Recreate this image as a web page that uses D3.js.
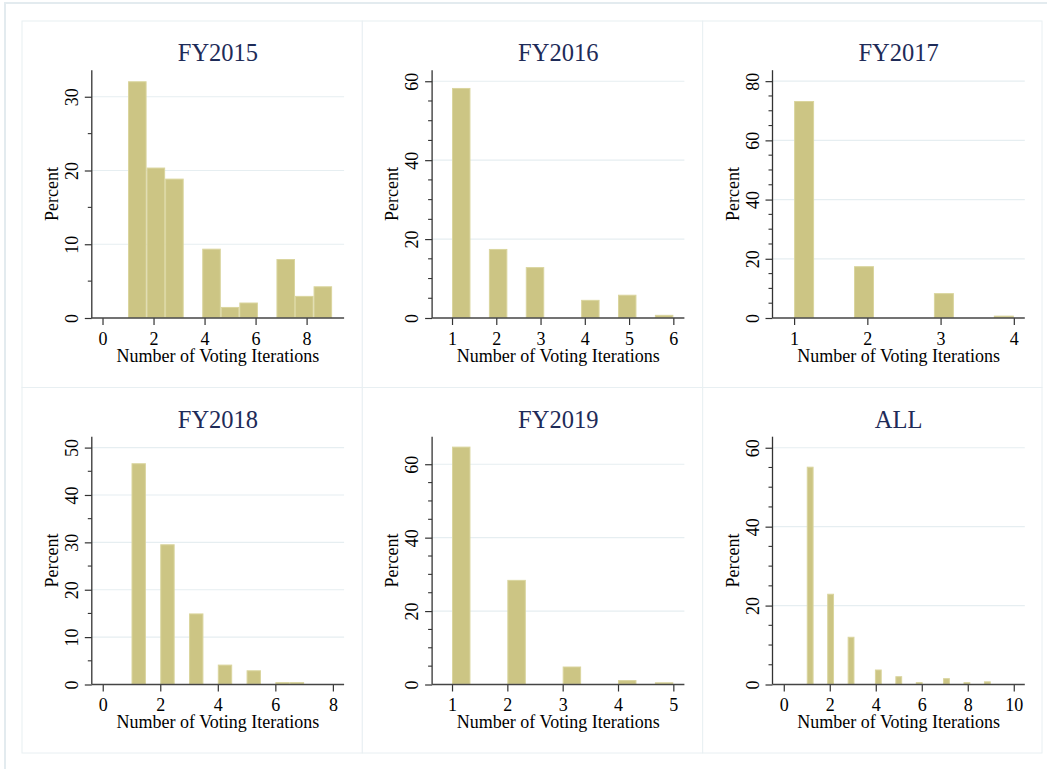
<!DOCTYPE html>
<html>
<head>
<meta charset="utf-8">
<script src="https://cdn.jsdelivr.net/npm/d3@7"></script>
<style>
  html, body { margin: 0; padding: 0; background: #ffffff; }
  svg { display: block; }
  text { font-family: "Liberation Serif", "Times New Roman", serif; }
</style>
</head>
<body>
<svg id="chart" width="1047" height="769"></svg>
<script>
// Panel titles
const titles = ["FY2015", "FY2016", "FY2017", "FY2018", "FY2019", "ALL"];

// Histogram bins: each panel's bins split [binLow, binHigh] evenly
const binLow  = [1, 1, 1, 1, 1, 1];
const binHigh = [9, 6, 4, 7, 5, 9];

// Percent of observations in each bin
const pctFY2015 = [32.1, 20.4, 18.9, 0, 9.4, 1.5, 2.1, 0, 8.0, 3.0, 4.3];
const pctFY2016 = [58.3, 0, 17.5, 0, 12.9, 0, 0, 4.6, 0, 5.9, 0, 0.8];
const pctFY2017 = [73.3, 0, 0, 17.5, 0, 0, 0, 8.4, 0, 0, 0.8];
const pctFY2018 = [46.7, 0, 29.6, 0, 15.0, 0, 4.2, 0, 3.0, 0, 0.5, 0.5];
const pctFY2019 = [64.8, 0, 0, 28.5, 0, 0, 4.9, 0, 0, 1.2, 0, 0.6];
const pctAll    = [55.2, 0, 0, 23.0, 0, 0, 12.1, 0, 0, 0, 3.8, 0, 0, 2.1, 0, 0,
                   0.6, 0, 0, 0, 1.6, 0, 0, 0.6, 0, 0, 0.8];
const pctSeries = [pctFY2015, pctFY2016, pctFY2017, pctFY2018, pctFY2019, pctAll];

// Tick labels
const xTicks = [
  [0, 2, 4, 6, 8],
  [1, 2, 3, 4, 5, 6],
  [1, 2, 3, 4],
  [0, 2, 4, 6, 8],
  [1, 2, 3, 4, 5],
  [0, 2, 4, 6, 8, 10]
];
const yTicks = [
  [0, 10, 20, 30],
  [0, 20, 40, 60],
  [0, 20, 40, 60, 80],
  [0, 10, 20, 30, 40, 50],
  [0, 20, 40, 60],
  [0, 20, 40, 60]
];
const yMinorStep = 5;

// Axis extents of each plot region
const xExtent = [[-0.42, 9.47], [0.55, 6.25], [0.705, 4.15], [-0.38, 8.39], [0.64, 5.2], [-0.49, 10.48]];
const yExtent = [[0, 33.6], [0, 62.8], [0, 83.7], [0, 52.3], [0, 67.5], [0, 62.8]];

const xTitle = "Number of Voting Iterations";
const yTitle = "Percent";

// ---- layout ----
const colEdges = [22, 362.3, 702.7, 1042];
const rowEdges = [21, 387.5, 753];
const plotL = 69.8, plotW = 252.3, plotT = 49.2, plotB = 297;

const barFill = "#ccc584";
const barEdge = "#dad59e";
const gridColor = "#e6eef1";
const axisColor = "#333333";
const titleColor = "#1e2b58";
const labelSize = 18;

const svg = d3.select("#chart");

// outer frame
svg.append("rect")
  .attr("x", 5).attr("y", 3)
  .attr("width", 1060).attr("height", 780)
  .attr("fill", "none").attr("stroke", "#e3ebef").attr("stroke-width", 2);

titles.forEach((title, i) => {
  const col = i % 3, row = Math.floor(i / 3);
  const px = colEdges[col], py = rowEdges[row];
  const pw = colEdges[col + 1] - px, ph = rowEdges[row + 1] - py;

  const g = svg.append("g").attr("transform", `translate(${px},${py})`);

  // panel border
  g.append("rect")
    .attr("x", 0).attr("y", 0).attr("width", pw).attr("height", ph)
    .attr("fill", "#ffffff").attr("stroke", "#e8eff2").attr("stroke-width", 1);

  const x = d3.scaleLinear().domain(xExtent[i]).range([plotL, plotL + plotW]);
  const y = d3.scaleLinear().domain(yExtent[i]).range([plotB, plotT]);

  // gridlines
  g.append("g").selectAll("line")
    .data(yTicks[i].filter(v => v > 0))
    .join("line")
    .attr("x1", plotL).attr("x2", plotL + plotW)
    .attr("y1", d => y(d)).attr("y2", d => y(d))
    .attr("stroke", gridColor).attr("stroke-width", 1.2);

  // bars
  const vals = pctSeries[i];
  const n = vals.length;
  const w = (binHigh[i] - binLow[i]) / n;
  const bins = vals.map((v, k) => ({ x0: binLow[i] + k * w, x1: binLow[i] + (k + 1) * w, v }))
                   .filter(b => b.v > 0);
  g.append("g").selectAll("rect")
    .data(bins)
    .join("rect")
    .attr("x", d => x(d.x0) + 0.5)
    .attr("y", d => y(d.v) + 0.5)
    .attr("width", d => Math.max(0, x(d.x1) - x(d.x0) - 1))
    .attr("height", d => Math.max(0, y(0) - y(d.v) - 1))
    .attr("fill", barFill)
    .attr("stroke", barEdge)
    .attr("stroke-width", 1);

  // y axis: major ticks
  const yMax = d3.max(yTicks[i]);
  const minor = d3.range(0, yMax + 0.001, yMinorStep).filter(v => !yTicks[i].includes(v));
  const yAxis = g.append("g").attr("transform", `translate(${plotL},0)`)
    .call(d3.axisLeft(y).tickValues(yTicks[i]).tickSize(7).tickPadding(6).tickFormat(d3.format("d")));
  yAxis.select(".domain").remove();
  yAxis.selectAll(".tick line").attr("stroke", axisColor).attr("stroke-width", 1.2);
  yAxis.selectAll(".tick text")
    .attr("fill", "#000").attr("font-size", labelSize)
    .attr("font-family", "Liberation Serif, serif")
    .attr("text-anchor", "middle")
    .attr("dy", 0)
    .attr("x", null)
    .attr("transform", "translate(-14,0) rotate(-90)");

  // y axis: minor ticks
  g.append("g").selectAll("line")
    .data(minor)
    .join("line")
    .attr("x1", plotL - 4).attr("x2", plotL)
    .attr("y1", d => y(d)).attr("y2", d => y(d))
    .attr("stroke", axisColor).attr("stroke-width", 1.1);

  // y axis line
  g.append("line")
    .attr("x1", plotL).attr("x2", plotL)
    .attr("y1", plotT).attr("y2", plotB)
    .attr("stroke", axisColor).attr("stroke-width", 1.3);

  // x axis
  const xAxis = g.append("g").attr("transform", `translate(0,${plotB})`)
    .call(d3.axisBottom(x).tickValues(xTicks[i]).tickSize(7).tickPadding(4).tickFormat(d3.format("d")));
  xAxis.select(".domain").remove();
  xAxis.selectAll(".tick line").attr("stroke", axisColor).attr("stroke-width", 1.2);
  xAxis.selectAll(".tick text")
    .attr("fill", "#000").attr("font-size", labelSize)
    .attr("font-family", "Liberation Serif, serif")
    .attr("y", 26.5).attr("dy", 0);

  g.append("line")
    .attr("x1", plotL).attr("x2", plotL + plotW)
    .attr("y1", plotB).attr("y2", plotB)
    .attr("stroke", "#444").attr("stroke-width", 1.5);

  // titles
  g.append("text")
    .attr("x", plotL + plotW / 2).attr("y", 40)
    .attr("text-anchor", "middle")
    .attr("font-size", 24.5)
    .attr("fill", titleColor)
    .text(title);

  g.append("text")
    .attr("x", plotL + plotW / 2).attr("y", plotB + 43.5)
    .attr("text-anchor", "middle")
    .attr("font-size", labelSize)
    .attr("fill", "#000")
    .text(xTitle);

  g.append("text")
    .attr("transform", `translate(${plotL - 34},${(plotT + plotB) / 2}) rotate(-90)`)
    .attr("text-anchor", "middle")
    .attr("font-size", labelSize)
    .attr("fill", "#000")
    .text(yTitle);
});
</script>
</body>
</html>
